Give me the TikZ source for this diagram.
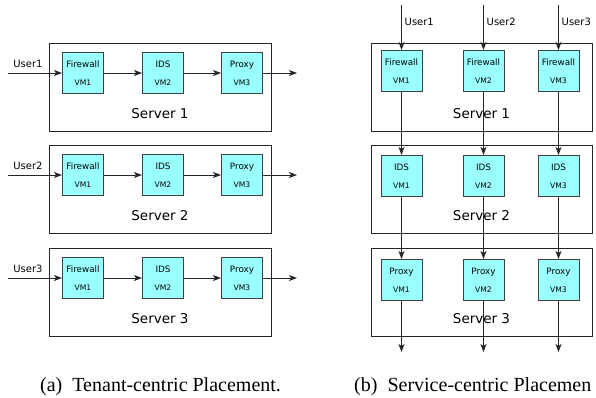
\documentclass[tikz,border=0pt]{standalone}
\usepackage{fontspec}
\setmainfont{Liberation Serif}
\setsansfont{DejaVu Sans}
\usetikzlibrary{positioning,arrows.meta}
\definecolor{vmcyan}{RGB}{153,255,255}

\newcommand{\vmtxt}[2]{#1\\{\fontsize{7.6}{18}\selectfont #2}}

\begin{document}
\begin{tikzpicture}[
  x=1pt, y=-1pt,
  font=\sffamily,
  every node/.style={align=center},
  server/.style ={rectangle, draw=black!85, line width=0.9pt, inner sep=0pt,
                  minimum width=222pt, minimum height=88pt},
  vm/.style     ={rectangle, draw=black!75, fill=vmcyan, line width=1pt, inner sep=0pt,
                  minimum width=41pt, minimum height=41pt,
                  font=\sffamily\fontsize{8.8}{18}\selectfont},
  srvlabel/.style={font=\sffamily\fontsize{13.5}{15}\selectfont, inner sep=0pt},
  user/.style   ={font=\sffamily\fontsize{10}{12}\selectfont, inner sep=0pt},
  arrow/.style  ={-{Stealth[length=8pt,width=6pt,inset=2pt]}, line width=0.9pt, draw=black!85},
  caption/.style={font=\rmfamily\fontsize{20}{22}\selectfont, anchor=base west, inner sep=0pt},
]
\useasboundingbox (0,0) rectangle (596,397);

% -------- (a) tenant-centric ---------------------------------------------
\foreach \r/\t in {1/43, 2/145, 3/248} {
  \node[server] (lsrv\r) at (160,\t+44) {};
  \node[srvlabel] (lsrvlbl\r) at (160,\t+71) {Server \r};
  \node[vm] (lfw\r) at (83,\t+30) {\vmtxt{Firewall}{VM1}};
  \node[vm, right=38pt of lfw\r] (lids\r) {\vmtxt{IDS}{VM2}};
  \node[vm, right=37pt of lids\r] (lpx\r) {\vmtxt{Proxy}{VM3}};
  \coordinate (lin\r) at (8,\t+30);
  \coordinate (lout\r) at (297,\t+30);
  \node[user] (luser\r) at (28,\t+21) {User\r};
  \draw[arrow] (lin\r) -- (lfw\r);
  \draw[arrow] (lfw\r) -- (lids\r);
  \draw[arrow] (lids\r) -- (lpx\r);
  \draw[arrow] (lpx\r) -- (lout\r);
}

% -------- (b) service-centric --------------------------------------------
\node[server, minimum width=221pt] (rsrv1) at (481.5,87) {};
\node[server, minimum width=221pt] (rsrv2) at (481.5,189) {};
\node[server, minimum width=221pt] (rsrv3) at (481.5,292) {};
\node[srvlabel] (rsrvlbl1) at (481.5,114) {Server 1};
\node[srvlabel] (rsrvlbl2) at (481.5,216) {Server 2};
\node[srvlabel] (rsrvlbl3) at (481.5,319) {Server 3};

\foreach \i/\x in {1/401.5, 2/483.5, 3/558.5} {
  \node[vm] (rfw\i)  at (\x,71)  {\vmtxt{Firewall}{VM\i}};
  \node[vm] (rids\i) at (\x,176) {\vmtxt{IDS}{VM\i}};
  \node[vm] (rpx\i)  at (\x,280) {\vmtxt{Proxy}{VM\i}};
  \coordinate (rin\i) at (\x,5);
  \coordinate (rout\i) at (\x,352);
  \node[user, anchor=west] (ruser\i) at (\x+3,22) {User\i};
  \draw[arrow] (rin\i) -- (rfw\i);
  \draw[arrow] (rfw\i) -- (rids\i);
  \draw[arrow] (rids\i) -- (rpx\i);
  \draw[arrow] (rpx\i) -- (rout\i);
}

% -------- captions --------------------------------------------------------
\node[caption] (capa) at (40,391) {(a)\hspace{0.5em}Tenant-centric Placement.};
\node[caption] (capb) at (354,391) {(b)\hspace{0.5em}Service-centric Placemen};

\end{tikzpicture}
\end{document}
